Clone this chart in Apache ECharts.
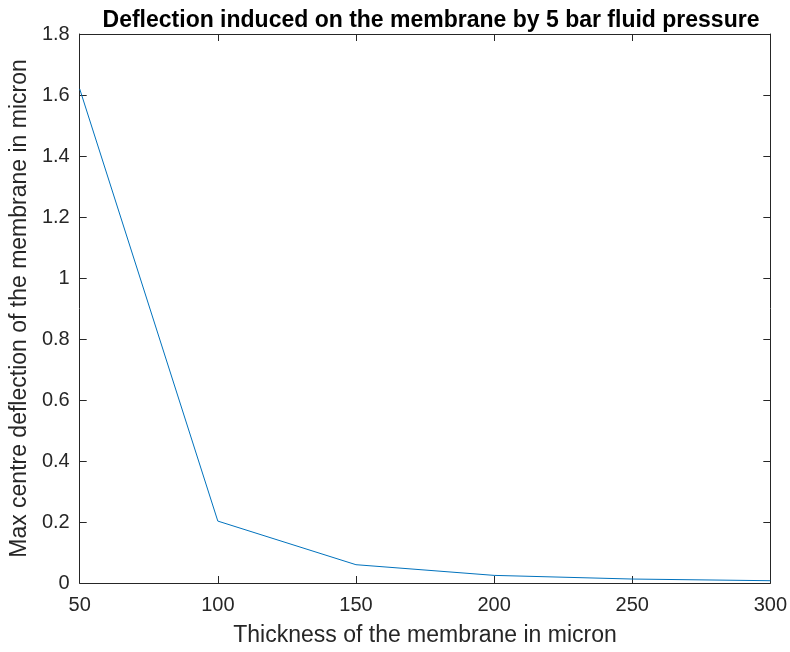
<!DOCTYPE html>
<html>
<head>
<meta charset="utf-8">
<script src="https://cdn.jsdelivr.net/npm/echarts@6/dist/echarts.min.js"></script>
<style>html,body{margin:0;padding:0;background:#fff}#c{width:790px;height:652px}</style>
</head>
<body>
<div id="c"></div>
<script>
var thickness = [50, 100, 150, 200, 250, 300];
var deflection = [1.62, 0.203, 0.06, 0.025, 0.013, 0.0075];
var xTicks = [50, 100, 150, 200, 250, 300];
var yTicks = [0, 0.2, 0.4, 0.6, 0.8, 1, 1.2, 1.4, 1.6, 1.8];

var axisCol = '#262626';
var font = 'Liberation Sans, Arial, Helvetica, sans-serif';
var chart = echarts.init(document.getElementById('c'));
var data = thickness.map(function (t, i) { return [t, deflection[i]]; });

function boxAxis(pos, isX) {
  return {
    type: 'value', position: pos,
    min: isX ? xTicks[0] : yTicks[0],
    max: isX ? xTicks[xTicks.length - 1] : yTicks[yTicks.length - 1],
    interval: isX ? 50 : 0.2,
    axisLine: { show: true, onZero: false, lineStyle: { color: axisCol, width: 1 } },
    axisTick: { show: true, inside: true, length: 7, lineStyle: { color: axisCol } },
    splitLine: { show: false },
    axisLabel: { show: false }
  };
}

var xMain = boxAxis('bottom', true);
xMain.axisLabel = { show: true, color: axisCol, fontSize: 20, fontFamily: font, margin: 12 };
xMain.name = 'Thickness of the membrane in micron';
xMain.nameLocation = 'middle';
xMain.nameGap = 41;
xMain.nameTextStyle = { color: axisCol, fontSize: 23, fontFamily: font };

var yMain = boxAxis('left', false);
yMain.axisLabel = { show: true, color: axisCol, fontSize: 20, fontFamily: font, margin: 10 };
yMain.name = 'Max centre deflection of the membrane in micron';
yMain.nameLocation = 'middle';
yMain.nameGap = 45;
yMain.nameTextStyle = { color: axisCol, fontSize: 23, fontFamily: font };

var xTop = boxAxis('top', true);
var yRight = boxAxis('right', false);

chart.setOption({
  animation: false,
  backgroundColor: '#fff',
  title: {
    text: 'Deflection induced on the membrane by 5 bar fluid pressure',
    left: 426, top: 4, textAlign: 'center',
    textStyle: { color: '#000', fontSize: 23, fontWeight: 'bold', fontFamily: font }
  },
  grid: { left: 79, right: 17, top: 34, bottom: 69 },
  xAxis: [xMain, xTop],
  yAxis: [yMain, yRight],
  series: [{
    type: 'line', data: data, xAxisIndex: 0, yAxisIndex: 0,
    showSymbol: false, symbol: 'none',
    lineStyle: { color: '#0072BD', width: 1 }
  }]
});
</script>
</body>
</html>
